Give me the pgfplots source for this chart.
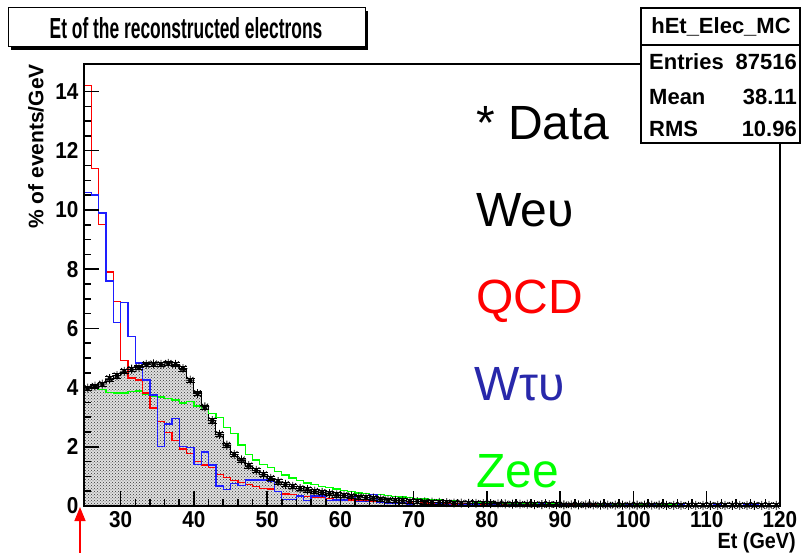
\documentclass[border=0pt]{standalone}
\usepackage{fontspec}
\setmainfont{Liberation Sans}
\newfontfamily\condA{Liberation Sans}[FakeStretch=0.9]
\newfontfamily\condT{Liberation Sans}[FakeStretch=0.6]
\usepackage{pgfplots}
\pgfplotsset{compat=1.18}
\usepackage{pgfplotstable}
\usetikzlibrary{patterns,arrows.meta}

\pgfdeclareplotmark{rstar}{%
  \pgfpathmoveto{\pgfqpoint{-\pgfplotmarksize}{0pt}}\pgfpathlineto{\pgfqpoint{\pgfplotmarksize}{0pt}}%
  \pgfpathmoveto{\pgfqpoint{0pt}{-\pgfplotmarksize}}\pgfpathlineto{\pgfqpoint{0pt}{\pgfplotmarksize}}%
  \pgfpathmoveto{\pgfqpoint{-0.707\pgfplotmarksize}{-0.707\pgfplotmarksize}}\pgfpathlineto{\pgfqpoint{0.707\pgfplotmarksize}{0.707\pgfplotmarksize}}%
  \pgfpathmoveto{\pgfqpoint{-0.707\pgfplotmarksize}{0.707\pgfplotmarksize}}\pgfpathlineto{\pgfqpoint{0.707\pgfplotmarksize}{-0.707\pgfplotmarksize}}%
  \pgfusepathqstroke
  \pgfpathcircle{\pgfpointorigin}{0.45\pgfplotmarksize}\pgfusepathqfill}

\pgfplotstableread{
x w d q t z
25 4.00 3.98 14.2 10.6 4.00
26 4.06 4.05 11.4 10.5 4.00
27 4.16 4.12 9.5 9.9 3.94
28 4.28 4.30 7.9 7.6 3.84
29 4.42 4.40 6.9 6.2 3.82
30 4.52 4.55 4.92 6.87 3.82
31 4.60 4.62 4.32 5.72 3.86
32 4.70 4.68 4.26 4.83 3.88
33 4.82 4.78 3.82 4.26 3.76
34 4.84 4.80 3.31 3.75 3.72
35 4.86 4.78 2.86 2.00 3.68
36 4.84 4.82 2.48 2.77 3.62
37 4.76 4.78 2.21 2.95 3.58
38 4.62 4.64 1.93 2.00 3.48
39 4.30 4.25 1.78 1.97 3.52
40 3.85 3.80 1.50 1.40 3.38
41 3.35 3.35 1.38 1.82 3.27
42 2.90 2.88 1.30 1.38 3.12
43 2.40 2.42 1.06 0.68 2.98
44 2.05 2.06 0.97 0.55 2.66
45 1.75 1.74 0.86 0.75 2.45
46 1.55 1.56 0.80 0.70 2.06
47 1.34 1.36 0.72 0.88 1.75
48 1.20 1.20 0.67 0.88 1.55
49 1.05 1.06 0.60 0.88 1.40
50 0.91 0.93 0.57 0.83 1.29
51 0.80 0.82 0.50 0.48 1.17
52 0.71 0.73 0.41 0.22 1.05
53 0.65 0.66 0.40 0.22 0.95
54 0.59 0.59 0.36 0.34 0.85
55 0.54 0.55 0.31 0.18 0.78
56 0.49 0.50 0.29 0.34 0.72
57 0.45 0.46 0.28 0.34 0.67
58 0.41 0.42 0.26 0.18 0.62
59 0.37 0.38 0.22 0.20 0.57
60 0.35 0.36 0.22 0.20 0.53
61 0.33 0.34 0.20 0.40 0.48
62 0.31 0.31 0.19 0.15 0.44
63 0.29 0.29 0.18 0.16 0.42
64 0.26 0.27 0.15 0.38 0.40
65 0.23 0.24 0.15 0.11 0.38
66 0.21 0.21 0.12 0.09 0.35
67 0.19 0.19 0.11 0.09 0.33
68 0.17 0.18 0.12 0.12 0.30
69 0.16 0.16 0.10 0.05 0.28
70 0.15 0.15 0.09 0.08 0.26
71 0.14 0.14 0.10 0.03 0.24
72 0.13 0.13 0.08 0.06 0.22
73 0.12 0.12 0.07 0.10 0.20
74 0.11 0.11 0.08 0.04 0.19
75 0.10 0.10 0.06 0.02 0.18
76 0.095 0.10 0.07 0.05 0.16
77 0.09 0.09 0.05 0.03 0.15
78 0.085 0.09 0.06 0.07 0.14
79 0.08 0.08 0.05 0.02 0.13
80 0.075 0.08 0.04 0.04 0.12
81 0.07 0.07 0.05 0.03 0.11
82 0.066 0.07 0.04 0.02 0.10
83 0.062 0.06 0.03 0.06 0.10
84 0.058 0.06 0.04 0.03 0.09
85 0.055 0.06 0.03 0.02 0.09
86 0.052 0.05 0.04 0.05 0.08
87 0.049 0.05 0.02 0.08 0.08
88 0.046 0.05 0.03 0.03 0.07
89 0.044 0.05 0.03 0.02 0.07
90 0.042 0.04 0.02 0.04 0.06
91 0.040 0.04 0.03 0.02 0.06
92 0.038 0.04 0.02 0.01 0.06
93 0.036 0.04 0.02 0.03 0.05
94 0.034 0.04 0.03 0.02 0.05
95 0.033 0.03 0.02 0.02 0.05
96 0.032 0.03 0.01 0.07 0.04
97 0.031 0.03 0.02 0.02 0.04
98 0.030 0.03 0.02 0.01 0.04
99 0.029 0.03 0.01 0.03 0.04
100 0.028 0.03 0.02 0.01 0.03
101 0.027 0.03 0.01 0.02 0.03
102 0.026 0.03 0.02 0.03 0.03
103 0.025 0.03 0.01 0.01 0.03
104 0.024 0.02 0.02 0.02 0.03
105 0.023 0.02 0.01 0.01 0.03
106 0.022 0.02 0.01 0.04 0.03
107 0.021 0.02 0.02 0.01 0.02
108 0.020 0.02 0.01 0.02 0.02
109 0.020 0.02 0.01 0.01 0.02
110 0.019 0.02 0.02 0.02 0.02
111 0.018 0.02 0.01 0.03 0.02
112 0.018 0.02 0.01 0.01 0.02
113 0.017 0.02 0.01 0.02 0.02
114 0.016 0.02 0.02 0.01 0.02
115 0.016 0.02 0.01 0.04 0.02
116 0.015 0.02 0.01 0.05 0.02
117 0.015 0.02 0.01 0.02 0.02
118 0.014 0.02 0.01 0.01 0.02
119 0.014 0.02 0.01 0.02 0.02
120 0.014 nan 0.01 0.02 0.02
}\histdata

\begin{document}
\begin{tikzpicture}
\useasboundingbox (0pt,0pt) rectangle (801pt,-553pt);
\begin{axis}[
  at={(84pt,-506pt)}, anchor=south west,
  scale only axis, width=696pt, height=442pt,
  xmin=25, xmax=120, ymin=0, ymax=14.93,
  xtick={30,40,...,120}, ytick={0,2,...,14},
  minor x tick num=4, minor y tick num=3,
  tick pos=left, tick align=inside,
  major tick length=15pt, minor tick length=7pt,
  axis line style={line width=1.5pt},
  every tick/.style={black, line width=1.5pt},
  axis on top,
  /pgf/number format/assume math mode=true,
  ticklabel style={font=\condA\bfseries\fontsize{23}{23}\selectfont},
  xticklabel style={yshift=-2pt},
  yticklabel style={xshift=-2pt},
  clip=true,
]
\addplot[const plot mark left, draw=none, fill=black!12] table[x=x,y=w]{\histdata} \closedcycle;
\addplot[const plot mark left, draw=black, line width=1pt, pattern=crosshatch dots, pattern color=black!80] table[x=x,y=w]{\histdata} \closedcycle;
\addplot[const plot mark left, draw={rgb,255:red,0;green,255;blue,0}, line width=1.3pt, no marks] table[x=x,y=z]{\histdata};
\addplot[const plot mark left, draw={rgb,255:red,255;green,0;blue,0}, line width=1.3pt, no marks] table[x=x,y=q]{\histdata};
\addplot[const plot mark left, draw={rgb,255:red,30;green,30;blue,255}, line width=1.3pt, no marks] table[x=x,y=t]{\histdata};
\addplot[only marks, mark=rstar, mark size=4.5pt, black, line width=0.8pt,
  error bars/.cd, y dir=both, y fixed=0.07, error bar style={line width=0.8pt}]
  table[x expr=\thisrow{x}+0.5, y=d]{\histdata};
\end{axis}

% title box
\fill[black] (11pt,-11pt) rectangle (368pt,-50pt);
\filldraw[fill=white, draw=black, line width=1pt] (8pt,-8pt) rectangle (365pt,-47pt);
\node[font=\condT\bfseries\fontsize{29}{29}\selectfont, inner sep=0pt] at (186pt,-28pt) {Et of the reconstructed electrons};

% stats box
\filldraw[fill=white, draw=black, line width=1.5pt] (641pt,-8pt) rectangle (800pt,-143pt);
\draw[line width=1.2pt] (641pt,-45pt) -- (800pt,-45pt);
\begin{scope}[every node/.style={font=\bfseries\fontsize{22}{22}\selectfont, inner sep=0pt}]
\node at (721pt,-27pt) {hEt\_Elec\_MC};
\node[anchor=west] at (649pt,-62pt) {Entries};
\node[anchor=east] at (797pt,-62pt) {87516};
\node[anchor=west] at (649pt,-97pt) {Mean};
\node[anchor=east] at (797pt,-97pt) {38.11};
\node[anchor=west] at (649pt,-129pt) {RMS};
\node[anchor=east] at (797pt,-129pt) {10.96};
\end{scope}

% in-plot labels
\begin{scope}[every node/.style={font=\fontsize{48}{48}\selectfont, inner sep=0pt, anchor=base west}]
\node[black] at (476pt,-140pt) {* Data};
\node[black] at (476pt,-227pt) {We\symbol{"03C5}};
\node[color={rgb,255:red,255;green,0;blue,0}] at (476pt,-314pt) {QCD};
\node[color={rgb,255:red,40;green,40;blue,170}] at (474pt,-400pt) {W\symbol{"03C4}\symbol{"03C5}};
\node[color={rgb,255:red,0;green,255;blue,0}] at (476pt,-487pt) {Zee};
\end{scope}

% axis titles
\node[rotate=90, anchor=east, font=\bfseries\fontsize{21}{21}\selectfont, inner sep=0pt] at (36pt,-64pt) {\% of events/GeV};
\node[anchor=east, font=\condA\bfseries\fontsize{22}{22}\selectfont, inner sep=0pt] at (796pt,-543pt) {Et (GeV)};

% red arrow
\draw[color={rgb,255:red,255;green,0;blue,0}, line width=1.5pt, -{Triangle[length=14pt,width=11pt]}] (80pt,-553pt) -- (80pt,-507pt);
\end{tikzpicture}
\end{document}
